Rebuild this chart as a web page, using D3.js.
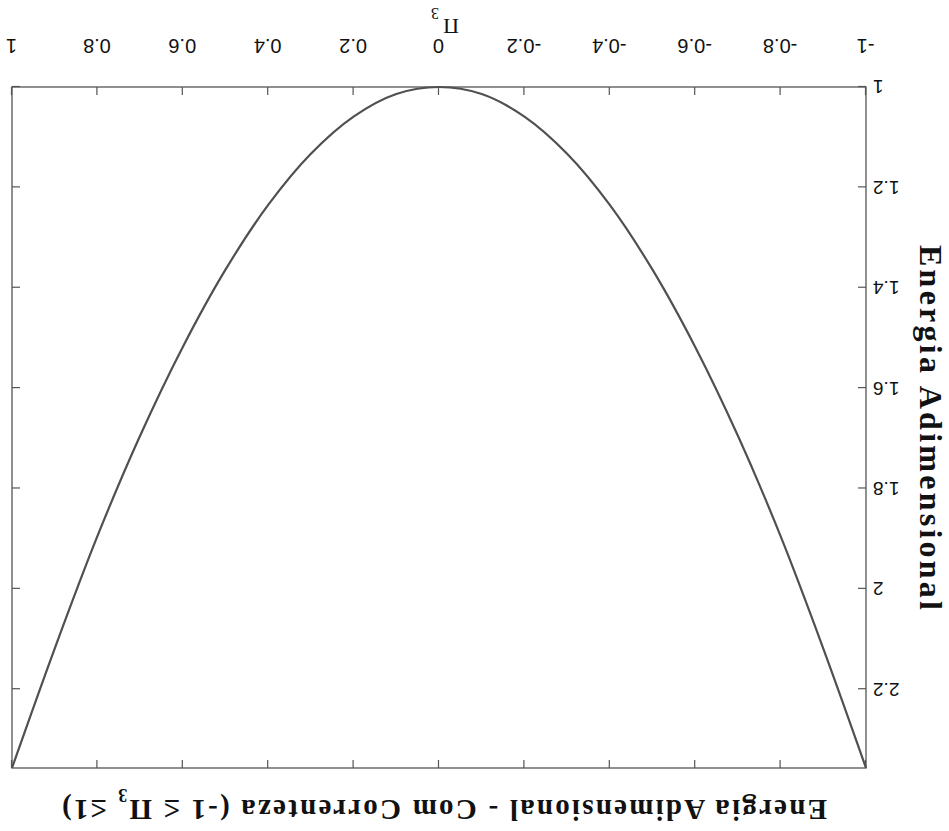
<!DOCTYPE html>
<html>
<head>
<meta charset="utf-8">
<script src="https://cdn.jsdelivr.net/npm/d3@7"></script>
<style>
  html, body { margin: 0; padding: 0; background: #ffffff; }
  svg { display: block; }
</style>
</head>
<body>
<svg id="chart" width="949" height="831"></svg>
<script>
// Dimensionless energy vs. Π3, with current (-1 ≤ Π3 ≤ 1)
const pi3 = [-1.0, -0.9, -0.8, -0.7, -0.6, -0.5, -0.4, -0.3, -0.2, -0.1, 0.0,
              0.1,  0.2,  0.3,  0.4,  0.5,  0.6,  0.7,  0.8,  0.9, 1.0];
const energia = [2.357, 2.119, 1.895, 1.695, 1.518, 1.364, 1.235, 1.133, 1.059, 1.014, 1.000,
                 1.014, 1.059, 1.133, 1.235, 1.364, 1.518, 1.695, 1.895, 2.119, 2.357];

const xTicks = [-1, -0.8, -0.6, -0.4, -0.2, 0, 0.2, 0.4, 0.6, 0.8, 1];
const xTickLabels = ["-1", "-0.8", "-0.6", "-0.4", "-0.2", "0", "0.2", "0.4", "0.6", "0.8", "1"];
const yTicks = [1, 1.2, 1.4, 1.6, 1.8, 2, 2.2];
const yTickLabels = ["1", "1.2", "1.4", "1.6", "1.8", "2", "2.2"];
const yLimits = [1, 2.357];

const titleText = "Energia Adimensional - Com Correnteza (-1 ≤ Π";
const titleSub = "3";
const titleTail = " ≤1)";
const yLabelText = "Energia Adimensional";

const W = 949, H = 831;
const plot = { left: 83, right: 937, top: 63, bottom: 744 };

const svg = d3.select("#chart");
svg.append("rect").attr("width", W).attr("height", H).attr("fill", "#ffffff");

// the whole figure is shown turned upside down
const root = svg.append("g").attr("transform", `rotate(180 ${W / 2} ${H / 2})`);

const x = d3.scaleLinear().domain([-1, 1]).range([plot.left, plot.right]);
const y = d3.scaleLinear().domain(yLimits).range([plot.bottom, plot.top]);

const tickFont = "'Liberation Sans', Arial, Helvetica, sans-serif";
const serif = "'Liberation Serif', 'Times New Roman', Times, serif";
const axisColor = "#555";

// bottom axis with labels
const gx = root.append("g")
  .attr("transform", `translate(0,${plot.bottom})`)
  .call(d3.axisBottom(x).tickValues(xTicks).tickSizeInner(-8).tickSizeOuter(0)
    .tickFormat((d, i) => xTickLabels[i]));
gx.selectAll("text").attr("y", 48).attr("dy", null)
  .attr("font-family", tickFont).attr("font-size", 20).attr("fill", "#111");

// left axis with labels
const gy = root.append("g")
  .attr("transform", `translate(${plot.left},0)`)
  .call(d3.axisLeft(y).tickValues(yTicks).tickSizeInner(-8).tickSizeOuter(0)
    .tickFormat((d, i) => yTickLabels[i]));
gy.selectAll("text").attr("x", -7)
  .attr("font-family", tickFont).attr("font-size", 19).attr("fill", "#111");

// mirrored ticks on top and right
const gxt = root.append("g")
  .attr("transform", `translate(0,${plot.top})`)
  .call(d3.axisTop(x).tickValues(xTicks).tickSizeInner(-8).tickSizeOuter(0).tickFormat(""));
const gyr = root.append("g")
  .attr("transform", `translate(${plot.right},0)`)
  .call(d3.axisRight(y).tickValues(yTicks).tickSizeInner(-8).tickSizeOuter(0).tickFormat(""));

[gx, gy, gxt, gyr].forEach(g => {
  g.select(".domain").remove();
  g.selectAll(".tick line").attr("stroke", axisColor).attr("stroke-width", 1.2);
});

// plot frame
root.append("rect")
  .attr("x", plot.left).attr("y", plot.top)
  .attr("width", plot.right - plot.left).attr("height", plot.bottom - plot.top)
  .attr("fill", "none").attr("stroke", axisColor).attr("stroke-width", 1.3);

// energy curve
const line = d3.line()
  .x((d, i) => x(pi3[i]))
  .y(d => y(d))
  .curve(d3.curveCatmullRom.alpha(0.5));
root.append("path")
  .datum(energia)
  .attr("d", line)
  .attr("fill", "none")
  .attr("stroke", "#505050")
  .attr("stroke-width", 2.2)
  .attr("stroke-linejoin", "round");

// spread a text element so it spans the given width
function spreadTo(sel, width) {
  const node = sel.node();
  const n = node.getNumberOfChars();
  const natural = node.getComputedTextLength();
  if (n > 1) sel.attr("letter-spacing", (width - natural) / (n - 1));
}

// title
const title = root.append("text")
  .attr("x", 122).attr("y", 31)
  .attr("font-family", serif).attr("font-weight", "bold").attr("font-size", 29)
  .attr("fill", "#111");
title.append("tspan").text(titleText);
title.append("tspan").attr("dy", 11).attr("font-size", 18).text(titleSub);
title.append("tspan").attr("dy", -11).text(titleTail);
spreadTo(title, 765);

// x-axis label Π3
const xl = root.append("text")
  .attr("font-family", serif).attr("font-size", 22).attr("fill", "#111");
xl.append("tspan").attr("x", 490).attr("y", 812).text("Π");
xl.append("tspan").attr("x", 510).attr("y", 823).attr("font-size", 16).text("3");

// y-axis label
const yl = root.append("text")
  .attr("transform", "translate(29,586) rotate(-90)")
  .attr("font-family", serif).attr("font-weight", "bold").attr("font-size", 32)
  .attr("fill", "#111")
  .text(yLabelText);
spreadTo(yl, 365);
</script>
</body>
</html>
